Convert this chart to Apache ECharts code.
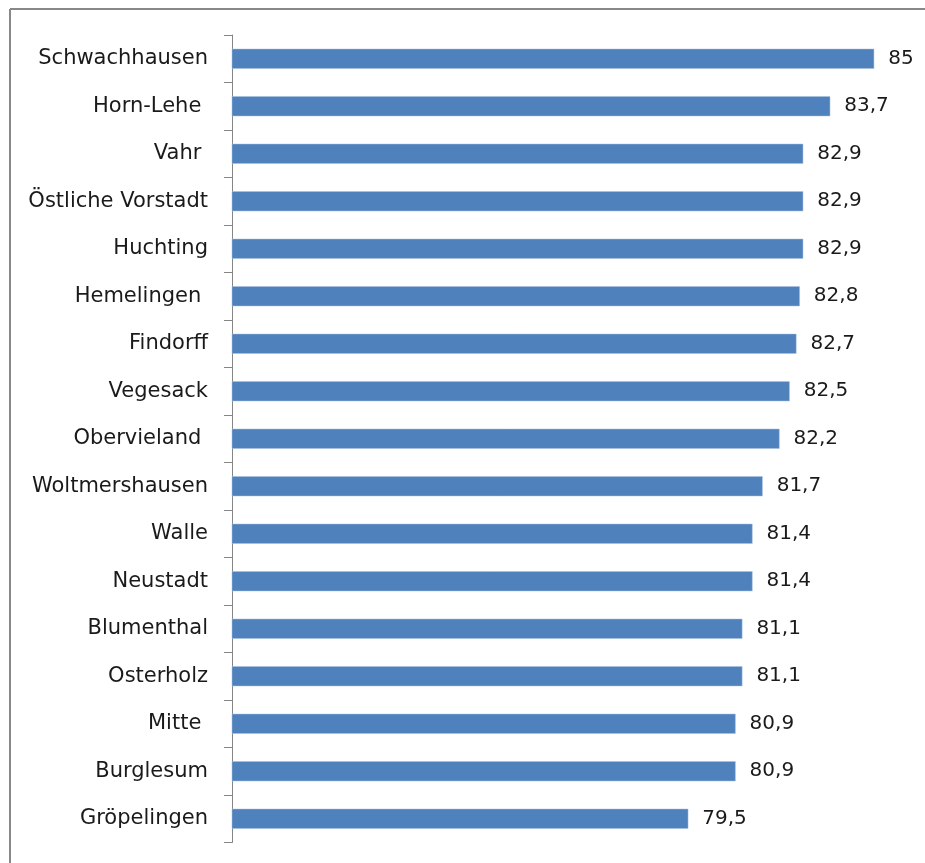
<!DOCTYPE html>
<html><head><meta charset="utf-8">
<script src="https://cdn.jsdelivr.net/npm/echarts@6/dist/echarts.min.js"></script>
<style>html,body{margin:0;padding:0;background:#fff}#c{width:925px;height:863px}</style>
</head><body><div id="c"></div>
<script>
const categories = ["Schwachhausen","Horn-Lehe ","Vahr ","Östliche Vorstadt","Huchting","Hemelingen ","Findorff","Vegesack","Obervieland ","Woltmershausen","Walle","Neustadt","Blumenthal","Osterholz","Mitte ","Burglesum","Gröpelingen"];
const values = [85,83.7,82.9,82.9,82.9,82.8,82.7,82.5,82.2,81.7,81.4,81.4,81.1,81.1,80.9,80.9,79.5];
const FONT = "DejaVu Sans";
const chart = echarts.init(document.getElementById('c'));
chart.setOption({
  animation:false,
  graphic:[
    {type:'line',shape:{x1:10,y1:9,x2:925,y2:9},style:{stroke:'#888',lineWidth:2}},
    {type:'line',shape:{x1:10,y1:9,x2:10,y2:863},style:{stroke:'#888',lineWidth:2}}
  ],
  grid:{left:232,top:35,width:676,height:807.5,containLabel:false},
  xAxis:{type:'value',min:66,max:86,show:false},
  yAxis:{type:'category',inverse:true,data:categories,
    axisLine:{lineStyle:{color:'#868686',width:1}},
    axisTick:{show:true,length:8,lineStyle:{color:'#868686'}},
    axisLabel:{fontFamily:FONT,fontSize:21,color:'#1a1a1a',margin:24}},
  series:[{type:'bar',data:values,barWidth:20,
    itemStyle:{color:'#4F81BD',borderColor:'#a8c0df',borderWidth:0.5},
    label:{show:true,position:'right',distance:14,fontFamily:FONT,fontSize:20,color:'#1a1a1a',
      formatter:p=>String(p.value).replace('.',',')}}]
});
</script></body></html>
